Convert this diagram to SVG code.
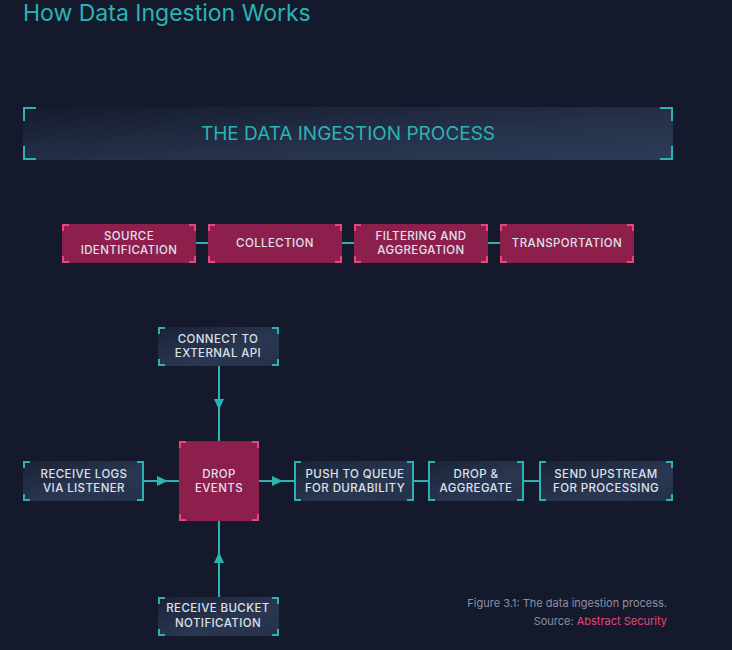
<svg xmlns="http://www.w3.org/2000/svg" width="732" height="650" viewBox="0 0 732 650">
<defs>
<linearGradient id="ban" x1="0" y1="0" x2="1" y2="1"><stop offset="0" stop-color="#151b2d"/><stop offset="0.6" stop-color="#26324b"/><stop offset="1" stop-color="#2c3b57"/></linearGradient>
<linearGradient id="nd" x1="0" y1="0" x2="1" y2="1"><stop offset="0" stop-color="#1a2236"/><stop offset="0.6" stop-color="#2a3752"/><stop offset="1" stop-color="#25314a"/></linearGradient>
</defs>
<style>
.bg{fill:#141a2c}
.tc{fill:none;stroke:#2bb3b3;stroke-width:2}
.pc{fill:none;stroke:#e8457c;stroke-width:2}
.pk{fill:#8c1f4c}
.dk{fill:url(#nd)}
.t{font-family:"Inter","Liberation Sans",sans-serif;font-size:11.5px;font-weight:500;fill:#dfe1ea;text-anchor:middle;letter-spacing:0.4px}
.ln{stroke:#2bb3b3;stroke-width:2;fill:none}
.ar{fill:#2bb3b3}
</style>
<rect class="bg" width="732" height="650"/>
<text x="23" y="21" font-family="Inter,'Liberation Sans',sans-serif" font-size="23" fill="#2bb3b3">How Data Ingestion Works</text>
<g id="banner">
<rect x="23" y="107" width="650" height="53" fill="url(#ban)"/>
<path class="tc" d="M24,121V108H36M24,146V159H36M660,108H672V121M660,159H672V146"/>
<text x="348" y="140" font-family="Inter,'Liberation Sans',sans-serif" font-size="19" fill="#2bb3b3" text-anchor="middle">THE DATA INGESTION PROCESS</text>
</g>
<g id="connectors">
<path class="ln" d="M196,243H208M342,243H354M488,243H500"/>
<path class="ln" d="M219,366V441M219,521V597M144,481H179M259,481H294M414,481H428M524,481H539"/>
<path class="ar" d="M214,399H224L219,410Z M214,563H224L219,552Z M157,476V486L168,481Z M272,476V486L283,481Z"/>
</g>
<g id="n-source"><rect class="pk" x="62" y="224" width="134" height="39"/><path class="pc" d="M63,231V225H69M189,225H195V231M63,256V262H69M189,262H195V256"/><text class="t" x="129" y="240">SOURCE</text><text class="t" x="129" y="254">IDENTIFICATION</text></g>
<g id="n-collection"><rect class="pk" x="208" y="224" width="134" height="39"/><path class="pc" d="M209,231V225H215M335,225H341V231M209,256V262H215M335,262H341V256"/><text class="t" x="275" y="247">COLLECTION</text></g>
<g id="n-filter"><rect class="pk" x="354" y="224" width="134" height="39"/><path class="pc" d="M355,231V225H361M481,225H487V231M355,256V262H361M481,262H487V256"/><text class="t" x="421" y="240">FILTERING AND</text><text class="t" x="421" y="254">AGGREGATION</text></g>
<g id="n-transport"><rect class="pk" x="500" y="224" width="134" height="39"/><path class="pc" d="M501,231V225H507M627,225H633V231M501,256V262H507M627,262H633V256"/><text class="t" x="567" y="247">TRANSPORTATION</text></g>
<g id="n-api"><rect class="dk" x="158" y="327" width="121" height="39"/><path class="tc" d="M159,334V328H165M272,328H278V334M159,359V365H165M272,365H278V359"/><text class="t" x="218" y="343">CONNECT TO</text><text class="t" x="218" y="357">EXTERNAL API</text></g>
<g id="n-drop"><rect class="pk" x="179" y="441" width="80" height="80"/><path class="pc" d="M180,448V442H186M252,442H258V448M180,514V520H186M252,520H258V514"/><text class="t" x="219" y="478">DROP</text><text class="t" x="219" y="492">EVENTS</text></g>
<g id="n-logs"><rect class="dk" x="23" y="461" width="121" height="40"/><path class="tc" d="M24,468V462H30M137,462H143V500H137M24,494V500H30"/><text class="t" x="84" y="478">RECEIVE LOGS</text><text class="t" x="84" y="492">VIA LISTENER</text></g>
<g id="n-queue"><rect class="dk" x="294" y="461" width="120" height="40"/><path class="tc" d="M301,462H295V500H301M407,462H413V500H407"/><text class="t" x="355" y="478">PUSH TO QUEUE</text><text class="t" x="355" y="492">FOR DURABILITY</text></g>
<g id="n-agg"><rect class="dk" x="428" y="461" width="96" height="40"/><path class="tc" d="M435,462H429V500H435M517,462H523V500H517"/><text class="t" x="476" y="478">DROP &amp;</text><text class="t" x="476" y="492">AGGREGATE</text></g>
<g id="n-upstream"><rect class="dk" x="539" y="461" width="134" height="40"/><path class="tc" d="M546,462H540V500H546M666,462H672V468M666,500H672V494"/><text class="t" x="606" y="478">SEND UPSTREAM</text><text class="t" x="606" y="492">FOR PROCESSING</text></g>
<g id="n-bucket"><rect class="dk" x="158" y="597" width="121" height="39"/><path class="tc" d="M159,604V598H165M272,598H278V604M159,629V635H165M272,635H278V629"/><text class="t" x="218" y="612">RECEIVE BUCKET</text><text class="t" x="218" y="627">NOTIFICATION</text></g>
<g id="caption" font-family="Inter,'Liberation Sans',sans-serif" font-size="11" text-anchor="end">
<text x="667" y="607" fill="#8a90a6">Figure 3.1: The data ingestion process.</text>
<text x="667" y="625" fill="#8a90a6">Source: <tspan fill="#e8457c">Abstract Security</tspan></text>
</g>
</svg>
